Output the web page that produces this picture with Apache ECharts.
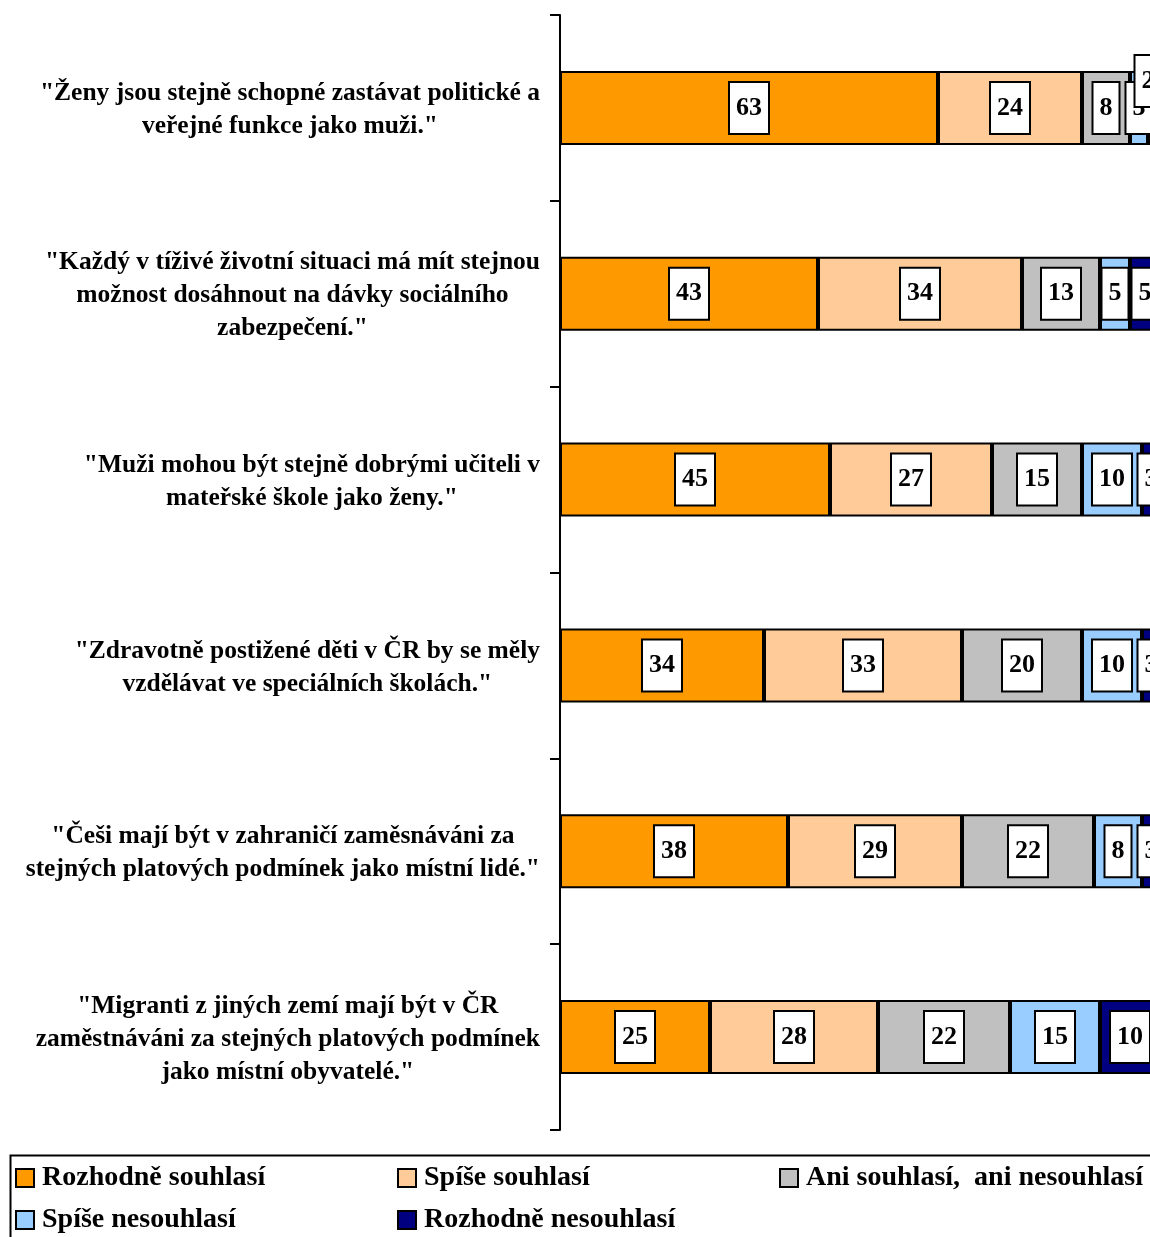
<!DOCTYPE html>
<html>
<head>
<meta charset="utf-8">
<script src="https://cdn.jsdelivr.net/npm/echarts@6/dist/echarts.min.js"></script>
<style>
html,body{margin:0;padding:0;background:#fff;}
#chart{width:1150px;height:1237px;}
</style>
</head>
<body>
<div id="chart"></div>
<script>
const categories = [
  '"Ženy jsou stejně schopné zastávat politické a\nveřejné funkce jako muži."',
  '"Každý v tíživé životní situaci má mít stejnou\nmožnost dosáhnout na dávky sociálního\nzabezpečení."',
  '"Muži mohou být stejně dobrými učiteli v\nmateřské škole jako ženy."',
  '"Zdravotně postižené děti v ČR by se měly\nvzdělávat ve speciálních školách."',
  '"Češi mají být v zahraničí zaměsnáváni za\nstejných platových podmínek jako místní lidé."',
  '"Migranti z jiných zemí mají být v ČR\nzaměstnáváni za stejných platových podmínek\njako místní obyvatelé."'
];
const seriesNames = ['Rozhodně souhlasí','Spíše souhlasí','Ani souhlasí,  ani nesouhlasí','Spíše nesouhlasí','Rozhodně nesouhlasí'];
const rozhodneSouhlasi   = [63, 43, 45, 34, 38, 25];
const spiseSouhlasi      = [24, 34, 27, 33, 29, 28];
const aniAni             = [8, 13, 15, 20, 22, 22];
const spiseNesouhlasi    = [3, 5, 10, 10, 8, 15];
const rozhodneNesouhlasi = [2, 5, 3, 3, 3, 10];
const colors = ['#FF9900','#FFCC99','#C0C0C0','#99CCFF','#000080'];

const FONT = '"Liberation Serif","Times New Roman",serif';
const values = [rozhodneSouhlasi, spiseSouhlasi, aniAni, spiseNesouhlasi, rozhodneNesouhlasi];

const labelStyle = {
  show: true, position: 'inside', formatter: '{c}',
  backgroundColor: '#fff', borderColor: '#000', borderWidth: 2,
  padding: [12, 6], fontSize: 26, fontWeight: 'bold', fontFamily: FONT, color: '#000', lineHeight: 26
};

const series = values.map((arr, si) => ({
  name: seriesNames[si], type: 'bar', stack: 'total', barWidth: 74, clip: false,
  itemStyle: { color: colors[si], borderColor: '#000', borderWidth: 2 },
  label: labelStyle,
  data: arr.map((v, ci) => {
    if (si === 4 && ci === 0) return { value: v, label: { offset: [-6, -27] } };
    return v;
  })
}));

const legendLefts = [15, 397, 779, 15, 397];
const legendTops = [1164, 1164, 1164, 1206, 1206];
const legends = seriesNames.map((n, i) => ({
  data: [n], left: legendLefts[i], top: legendTops[i], padding: 0,
  itemWidth: 18, itemHeight: 18, icon: 'rect',
  itemStyle: { borderColor: '#000', borderWidth: 2 },
  textStyle: { fontFamily: FONT, fontSize: 28, fontWeight: 'bold', color: '#000', padding: [0, 0, 0, 3] },
  selectedMode: false
}));

const chart = echarts.init(document.getElementById('chart'));
chart.setOption({
  animation: false,
  backgroundColor: '#fff',
  grid: { left: 560, width: 600, top: 15, bottom: 107, containLabel: false, outerBoundsMode: 'none' },
  xAxis: { type: 'value', min: 0, max: 100, show: false },
  yAxis: {
    type: 'category', inverse: true, data: categories,
    axisLine: { lineStyle: { color: '#000', width: 2 } },
    axisTick: { show: true, length: 10, lineStyle: { color: '#000', width: 2 } },
    axisLabel: {
      margin: 20,
      padding: [4, 0, 0, 0],
      formatter: v => v.split('\n').map(l => '{a|' + l + '}').join('\n'),
      rich: { a: { align: 'center', fontFamily: FONT, fontSize: 25.5, fontWeight: 'bold', color: '#000', lineHeight: 33 } }
    }
  },
  legend: legends,
  graphic: [{
    type: 'rect', left: 8, top: 1153, silent: true,
    shape: { width: 1200, height: 200 },
    style: { fill: 'none', stroke: '#000', lineWidth: 2 }
  }],
  series: series
});
</script>
</body>
</html>
